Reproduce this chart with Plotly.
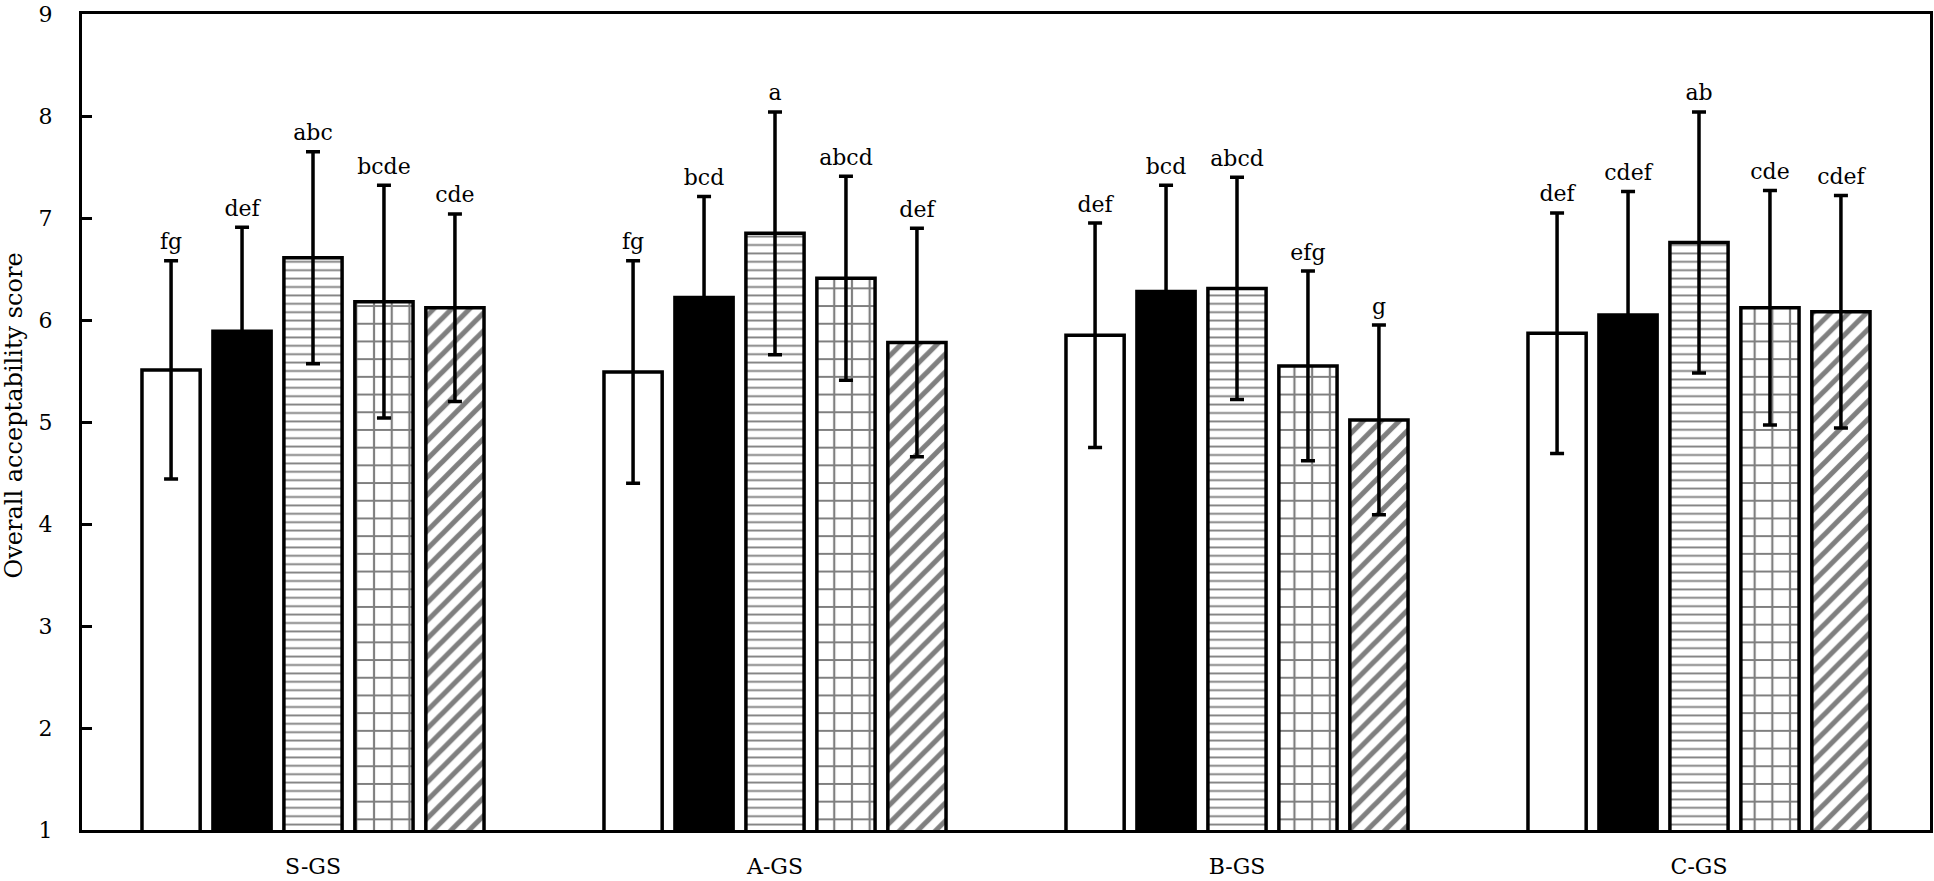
import plotly.graph_objects as go

# ---- data ----
categories = ["S-GS", "A-GS", "B-GS", "C-GS"]

mean_1 = [5.51, 5.49, 5.85, 5.87]
mean_2 = [5.89, 6.22, 6.28, 6.05]
mean_3 = [6.61, 6.85, 6.31, 6.76]
mean_4 = [6.18, 6.41, 5.55, 6.12]
mean_5 = [6.12, 5.78, 5.02, 6.08]

sd_1 = [1.07, 1.09, 1.10, 1.18]
sd_2 = [1.02, 0.99, 1.04, 1.21]
sd_3 = [1.04, 1.19, 1.09, 1.28]
sd_4 = [1.14, 1.00, 0.93, 1.15]
sd_5 = [0.92, 1.12, 0.93, 1.14]

letters_1 = ["fg", "fg", "def", "def"]
letters_2 = ["def", "bcd", "bcd", "cdef"]
letters_3 = ["abc", "a", "abcd", "ab"]
letters_4 = ["bcde", "abcd", "efg", "cde"]
letters_5 = ["cde", "def", "g", "cdef"]

y_ticks = [1, 2, 3, 4, 5, 6, 7, 8, 9]
y_title = "Overall acceptability score"

# ---- styling ----
FONT = "DejaVu Serif"
means = [mean_1, mean_2, mean_3, mean_4, mean_5]
sds = [sd_1, sd_2, sd_3, sd_4, sd_5]
letters = [letters_1, letters_2, letters_3, letters_4, letters_5]
styles = [
    dict(color="white", pattern=dict(shape="")),
    dict(color="black", pattern=dict(shape="")),
    dict(color="white", pattern=dict(shape="-", fgcolor="black", bgcolor="white", size=8.4, solidity=0.22)),
    dict(color="white", pattern=dict(shape="+", fgcolor="black", bgcolor="white", size=17.7, solidity=0.23)),
    dict(color="white", pattern=dict(shape="/", fgcolor="black", bgcolor="white", size=12.7, solidity=0.4)),
]

fig = go.Figure()
for i in range(5):
    fig.add_trace(go.Bar(
        x=categories, y=means[i], name=f"Series {i+1}",
        offsetgroup=str(i),
        marker=dict(color=styles[i]["color"], pattern=styles[i]["pattern"],
                    line=dict(color="black", width=3.5)),
        error_y=dict(type="data", array=sds[i], visible=True,
                     color="black", thickness=3.5, width=7),
    ))

for i in range(5):
    tops = [m + s for m, s in zip(means[i], sds[i])]
    fig.add_trace(go.Scatter(
        x=categories, y=tops, mode="markers+text", text=letters[i],
        offsetgroup=str(i),
        textposition="top center",
        marker=dict(size=8, opacity=0, color="black"),
        textfont=dict(family=FONT, size=22, color="black"),
        hoverinfo="skip",
    ))

fig.update_layout(
    width=1934, height=881,
    margin=dict(l=82, r=4, t=14, b=51),
    barmode="group", bargap=0.232, bargroupgap=0.18,
    scattermode="group", scattergap=0.232,
    plot_bgcolor="white", paper_bgcolor="white",
    showlegend=False,
    font=dict(family=FONT, size=22, color="black"),
)
fig.update_xaxes(
    automargin=False,
    showline=True, linecolor="black", linewidth=3, mirror=True,
    ticks="", showgrid=False, zeroline=False,
    tickfont=dict(family=FONT, size=22, color="black"),
    ticklabelstandoff=15, ticklabeloverflow="allow",
)
fig.update_yaxes(
    automargin=False,
    range=[1, 9], tickvals=y_ticks, ticktext=[str(t) for t in y_ticks],
    showline=True, linecolor="black", linewidth=3, mirror=True,
    ticks="inside", ticklen=10, tickwidth=3, tickcolor="black",
    showgrid=False, zeroline=False,
    tickfont=dict(family=FONT, size=22, color="black"),
    ticklabelstandoff=22, ticklabeloverflow="allow",
)
fig.add_annotation(
    text=y_title, textangle=-90, showarrow=False,
    xref="paper", yref="paper", x=-0.0363, y=0.508,
    xanchor="center", yanchor="middle",
    font=dict(family=FONT, size=24, color="black"),
)

fig.write_html("out.html")
